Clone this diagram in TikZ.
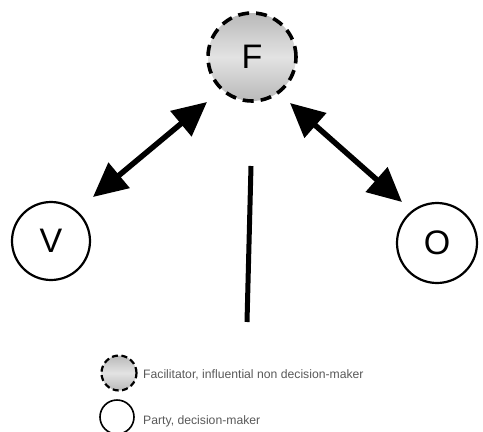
\documentclass[tikz,border=0pt]{standalone}
\usepackage{fontspec}
\setmainfont{Liberation Sans}
\usetikzlibrary{arrows.meta}
\tikzset{
  facil/.style={circle, draw=black, line width=3.6pt, dash pattern=on 11pt off 7pt,
    top color=gray!55, bottom color=gray!55, middle color=gray!22, inner sep=0pt},
  party/.style={circle, draw=black, line width=2.2pt, fill=white, inner sep=0pt},
  bigletter/.style={font=\fontsize{34}{34}\selectfont},
  dblarrow/.style={line width=5.5pt, {Triangle[length=34pt,width=32pt]}-{Triangle[length=34pt,width=32pt]}},
  legtext/.style={anchor=west, inner sep=0pt, font=\fontsize{12.2}{14}\selectfont, text=black!65},
}
\begin{document}
\begin{tikzpicture}[x=1pt,y=-1pt]
\useasboundingbox (0,0) rectangle (483,432);
\node[facil, minimum size=88pt, bigletter] (F) at (252,57) {F};
\node[party, minimum size=78pt, bigletter] (V) at (51,241) {V};
\node[party, minimum size=80pt, bigletter] (O) at (437,243) {O};
\coordinate (la) at (207,102);
\coordinate (lb) at (93,197);
\coordinate (ra) at (290,103);
\coordinate (rb) at (402,202);
\draw[dblarrow] (la) -- (lb);
\draw[dblarrow] (ra) -- (rb);
\coordinate (vt) at (251,166);
\coordinate (vb) at (247,322);
\draw[line width=5pt] (vt) -- (vb);
\node[facil, minimum size=35pt, line width=2.2pt, dash pattern=on 6pt off 3.5pt] (LF) at (119,373) {};
\node[party, minimum size=34pt, line width=1.6pt] (LP) at (117,417) {};
\node[legtext] (TF) at (143,375) {Facilitator, influential non decision-maker};
\node[legtext] (TP) at (143,421) {Party, decision-maker};
\end{tikzpicture}
\end{document}
